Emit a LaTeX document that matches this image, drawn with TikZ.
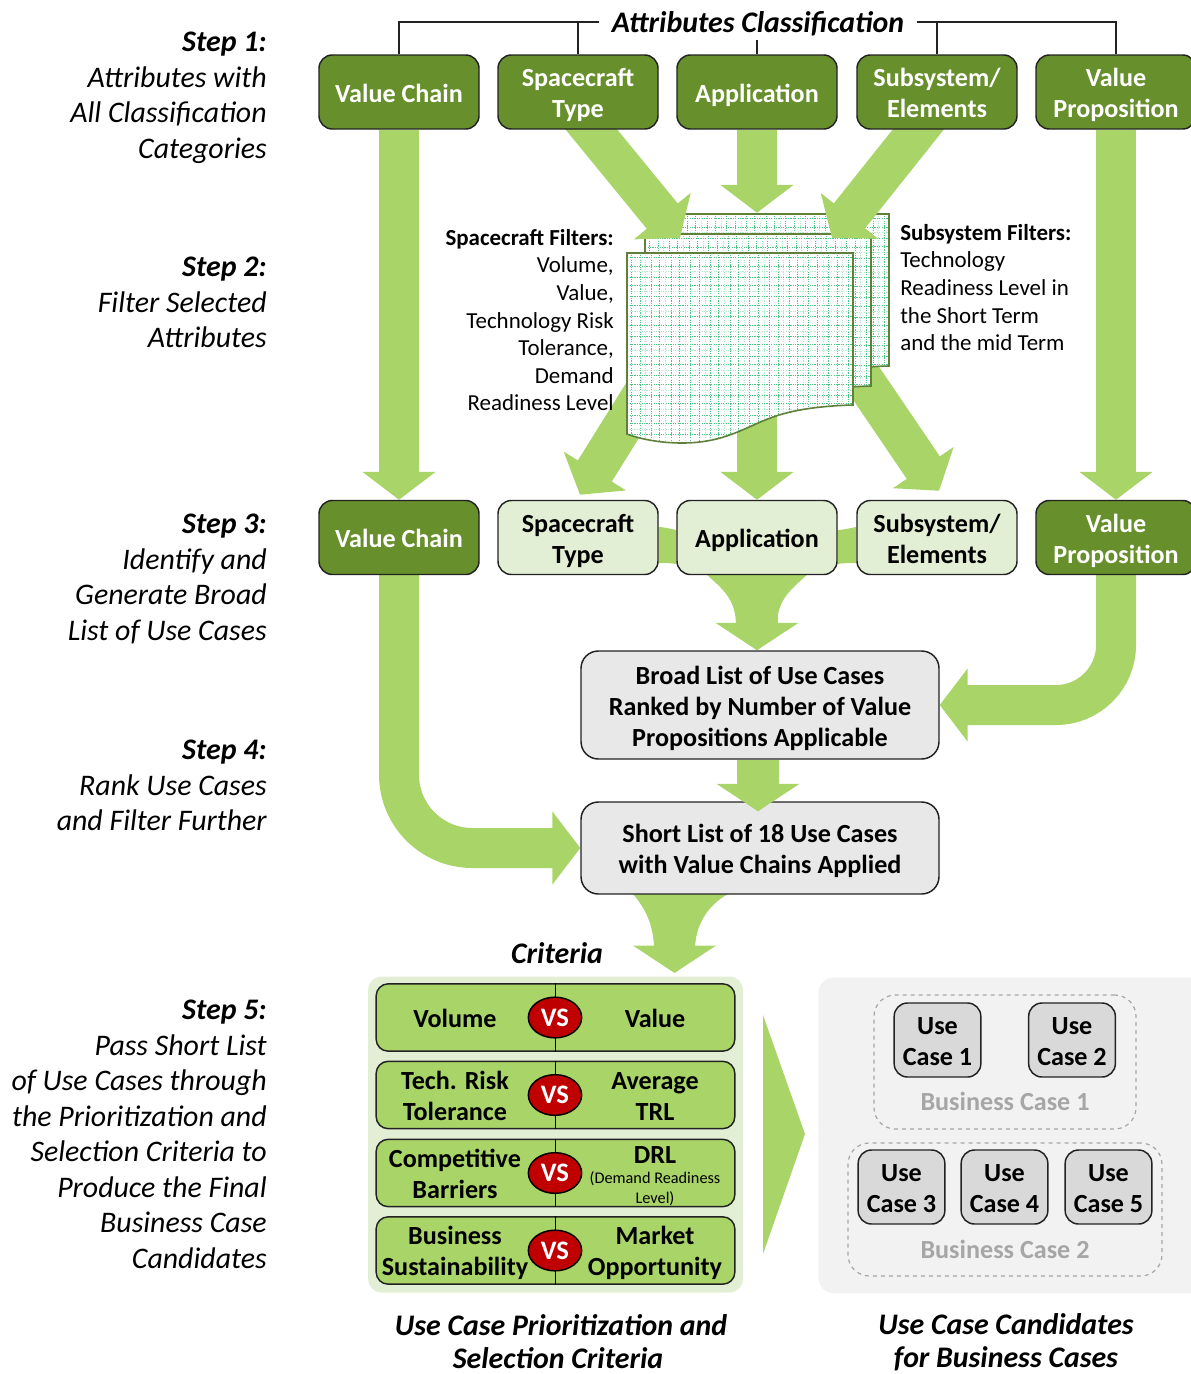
\documentclass[tikz,border=0pt]{standalone}
\usepackage{fontspec}
\setmainfont{Carlito}
\usetikzlibrary{arrows.meta,calc,shapes.geometric}
\definecolor{darkgreen}{HTML}{678F2C}
\definecolor{arrowgreen}{HTML}{A9D468}
\definecolor{palegreen}{HTML}{E2EFD5}
\definecolor{greybox}{HTML}{E8E8E8}
\definecolor{panelgrey}{HTML}{F2F2F2}
\definecolor{casegrey}{HTML}{D9D9D9}
\definecolor{dashgrey}{HTML}{A6A6A6}
\definecolor{vsred}{HTML}{C00000}
\definecolor{edgeblack}{HTML}{222222}
\definecolor{sheetedge}{HTML}{5F7F3A}
\definecolor{gridstrong}{HTML}{4CC585}
\definecolor{gridlight}{HTML}{B5E8CA}
\pgfdeclarelayer{backl}\pgfdeclarelayer{sheetl}\pgfdeclarelayer{upperl}\pgfdeclarelayer{frontl}
\pgfsetlayers{backl,sheetl,upperl,main,frontl}
\tikzset{
  x=0.75pt,y=-0.75pt,
  basefont/.style={font=\fontsize{19.6}{23.25}\selectfont\bfseries,align=center,inner sep=0pt,
    execute at begin node={\rule{0pt}{20pt}},execute at end node={\rule[-5pt]{0pt}{0pt}}},
  multi/.style={execute at begin node={\rule{0pt}{43.5pt}}},
  triple/.style={execute at begin node={\rule{0pt}{67.6pt}}},
  bigbox/.style={basefont,draw=edgeblack,line width=1.1pt,rounded corners=10pt,minimum width=120pt,minimum height=55.5pt},
  darkbox/.style={bigbox,fill=darkgreen,text=white},
  lightbox/.style={bigbox,fill=palegreen,text=black},
  listbox/.style={basefont,draw=edgeblack,line width=1.1pt,fill=greybox,rounded corners=13pt,minimum width=268.5pt},
  blockarrow/.style={draw=arrowgreen,line width=30pt,-{Triangle[length=21pt,width=54pt]}},
  wideblock/.style={draw=arrowgreen,line width=31pt,-{Triangle[length=20.5pt,width=61pt]}},
  steptext/.style={font=\fontsize{22.4}{26.6}\selectfont\itshape,align=right,anchor=north east,inner sep=0pt},
  headbase/.style={font=\fontsize{22.4}{26.6}\selectfont\bfseries\itshape,align=center,inner sep=0pt},
  headtext/.style={headbase,execute at begin node={\rule{0pt}{21pt}},execute at end node={\rule[-6pt]{0pt}{0pt}}},
  filtertext/.style={font=\fontsize{17.2}{20.7}\selectfont,inner sep=0pt},
  criteriarow/.style={draw=edgeblack,line width=1.1pt,fill=arrowgreen,rounded corners=9pt,minimum width=269pt,minimum height=50.5pt,inner sep=0pt},
  critlabel/.style={basefont},
  vsoval/.style={ellipse,draw=black,line width=1.1pt,fill=vsred,text=white,font=\fontsize{20}{22}\selectfont\bfseries,minimum width=40pt,minimum height=30.5pt,inner sep=0pt},
  casebox/.style={basefont,multi,draw=edgeblack,line width=1.1pt,fill=casegrey,rounded corners=10pt,minimum width=65pt,minimum height=55.5pt},
  groupbox/.style={draw=dashgrey,line width=0.9pt,dashed,rounded corners=16pt,inner sep=0pt},
  grouplabel/.style={basefont,text=dashgrey},
}
\newcommand{\sheetpath}{(627,253) -- (853,253) -- (853,405) .. controls (815,406) and (790,411) .. (773,417) .. controls (745,427) and (725,443) .. (682,443) .. controls (660,443) and (640,439) .. (627,434) -- cycle}
\newcommand{\drawsheet}[2]{%
  \begin{scope}[shift={(#1,#2)}]
    \fill[white] \sheetpath;
    \begin{scope}
      \clip \sheetpath;
      \foreach \g in {645.7,665.4,...,860} \draw[gridlight,line width=0.45pt,dash pattern=on 0.9pt off 0.9pt] (\g,250) -- (\g,450);
      \foreach \g in {271.7,291.4,...,450} \draw[gridlight,line width=0.45pt,dash pattern=on 0.9pt off 0.9pt] (620,\g) -- (860,\g);
      \foreach \g in {631.6,651.3,...,860} \draw[gridstrong,line width=0.65pt,dash pattern=on 0.9pt off 0.9pt] (\g,250) -- (\g,450);
      \foreach \g in {640.1,659.8,...,860} \draw[gridstrong,line width=0.65pt,dash pattern=on 0.9pt off 0.9pt] (\g,250) -- (\g,450);
      \foreach \g in {257.5,277.2,...,450} \draw[gridstrong,line width=0.65pt,dash pattern=on 0.9pt off 0.9pt] (620,\g) -- (860,\g);
      \foreach \g in {266,285.7,...,450} \draw[gridstrong,line width=0.65pt,dash pattern=on 0.9pt off 0.9pt] (620,\g) -- (860,\g);
    \end{scope}
    \draw[sheetedge,line width=1.2pt] \sheetpath;
  \end{scope}}
\begin{document}
\begin{tikzpicture}
\useasboundingbox (0,0) rectangle (1191,1374);
% step texts
\node[steptext] (step1) at (267,32) {\textbf{Step 1:}\\Attributes with\\All Classification\\Categories};
\node[steptext] (step2) at (267,257) {\textbf{Step 2:}\\Filter Selected\\Attributes};
\node[steptext] (step3) at (267,514) {\textbf{Step 3:}\\Identify and\\Generate Broad\\List of Use Cases};
\node[steptext] (step4) at (267,740) {\textbf{Step 4:}\\Rank Use Cases\\and Filter Further};
\node[steptext] (step5) at (267,1000) {\textbf{Step 5:}\\Pass Short List\\of Use Cases through\\the Prioritization and\\Selection Criteria to\\Produce the Final\\Business Case\\Candidates};
% title
\node[headtext,inner xsep=9.75pt,minimum height=27pt] (title) at (758,22) {Attributes Classification};
% top row
\node[darkbox] (vcA) at (399,92) {Value Chain};
\node[darkbox,multi] (scA) at (578,92) {Spacecraft\\Type};
\node[darkbox] (apA) at (757,92) {Application};
\node[darkbox,multi] (ssA) at (937,92) {Subsystem/\\Elements};
\node[darkbox,multi] (vpA) at (1116,92) {Value\\Proposition};
% bracket
\draw[edgeblack,line width=1pt] (title.west) -| (vcA.north);
\draw[edgeblack,line width=1pt] (scA.north) -- (scA.north |- title.west);
\draw[edgeblack,line width=1pt] (title.east) -| (vpA.north);
\draw[edgeblack,line width=1pt] (ssA.north) -- (ssA.north |- title.east);
\draw[edgeblack,line width=1pt] (apA.north) -- (apA.north |- title.south);
% third row
\node[darkbox] (vcB) at (399,537.5) {Value Chain};
\node[lightbox,multi] (scB) at (578,537.5) {Spacecraft\\Type};
\node[lightbox] (apB) at (757,537.5) {Application};
\node[lightbox,multi] (ssB) at (937,537.5) {Subsystem/\\Elements};
\node[darkbox,multi] (vpB) at (1116,537.5) {Value\\Proposition};
% lists
\node[listbox,triple,minimum height=81pt] (broad) at (760,705) {Broad List of Use Cases\\Ranked by Number of Value\\Propositions Applicable};
\node[listbox,multi,minimum height=69pt] (short) at (760,848) {Short List of 18 Use Cases\\with Value Chains Applied};
% filter texts
\node[filtertext,align=right,anchor=north east] (scfilter) at (614,229) {\textbf{Spacecraft Filters:}\\Volume,\\Value,\\Technology Risk\\Tolerance,\\Demand\\Readiness Level};
\node[filtertext,align=left,anchor=north west] (ssfilter) at (900,224) {\textbf{Subsystem Filters:}\\Technology\\Readiness Level in\\the Short Term\\and the mid Term};
% sheets
\coordinate (sheetL) at (659,368);
\coordinate (sheetM) at (757,380);
\coordinate (sheetR) at (855,367);
\begin{pgfonlayer}{sheetl}
  \drawsheet{36}{-39}
  \drawsheet{18}{-19}
  \drawsheet{0}{0}
\end{pgfonlayer}
\begin{pgfonlayer}{upperl}
  \draw[blockarrow] ($(scA.south)+(-2,-19)$) -- ($(scB.north)+(102,-262)$);
  \draw[blockarrow] (apA.south) -- ($(apB.north)+(0,-287)$);
  \draw[blockarrow] ($(ssA.south)+(-3,-20)$) -- ($(ssB.north)+(-105,-262)$);
\end{pgfonlayer}
\begin{pgfonlayer}{backl}
  \draw[blockarrow] (vcA.south) -- (vcB.north);
  \draw[blockarrow] (vpA.south) -- (vpB.north);
  \draw[blockarrow] (sheetL) -- ($(scB.north)+(2,-5)$);
  \draw[blockarrow] (sheetM) -- (apB.north);
  \draw[blockarrow] (sheetR) -- ($(ssB.north)+(2,-9)$);
  % side connectors of the third row
  \fill[arrowgreen] (scB.east |- 0,527) .. controls (664,527) and (671,529) .. (apB.west |- 0,530) -- (apB.west |- 0,564) .. controls (671,563) and (664,563) .. (scB.east |- 0,563) -- cycle;
  \fill[arrowgreen] (apB.east |- 0,530) .. controls (843,530) and (850,528) .. (ssB.west |- 0,527) -- (ssB.west |- 0,563) .. controls (850,563) and (843,563) .. (apB.east |- 0,564) -- cycle;
  % funnels
  \fill[arrowgreen] (706,574) .. controls (724,590) and (736,600) .. (736,626) -- (777,626) .. controls (777,600) and (790,590) .. (808,574) -- cycle;
  \draw[wideblock] (apB.south) -- ($(broad.north)+(-3,0)$);
  \fill[arrowgreen] (633,894) .. controls (645,908) and (654,925) .. (654,950) -- (695,950) .. controls (695,925) and (708,905) .. (728,894) -- cycle;
  \coordinate (critTip) at (674.5,973);
  \draw[wideblock] ($(short.south)+(-85.5,0)$) ++(0,10) -- (critTip);
  % curved arrows
  \draw[blockarrow,rounded corners=45pt] (vpB.south) |- (broad.east);
  \draw[blockarrow,rounded corners=55pt] (vcB.south) |- (short.west);
\end{pgfonlayer}
\begin{pgfonlayer}{frontl}
  \draw[wideblock,line width=32pt] ($(broad.south)+(-2,0)$) -- ($(short.north)+(-2,10)$);
\end{pgfonlayer}
% criteria
\node[headtext] (crit) at (557,953) {Criteria};
\node[draw=none,fill=palegreen,rounded corners=10pt,minimum width=281pt,minimum height=237pt,inner sep=0pt] (critpanel) at (555.5,1134.5) {};
\node[criteriarow] (r1) at (555.5,1017.5) {};
\node[criteriarow] (r2) at (555.5,1095) {};
\node[criteriarow] (r3) at (555.5,1173) {};
\node[criteriarow] (r4) at (555.5,1250.5) {};
\foreach \r in {r1,r2,r3,r4} \draw[black,line width=1pt] (\r.north) -- (\r.south);
\node[vsoval] (vs1) at (555,1017.5) {VS};
\node[vsoval] (vs2) at (555,1095) {VS};
\node[vsoval] (vs3) at (555,1173) {VS};
\node[vsoval] (vs4) at (555,1250.5) {VS};
\node[critlabel] (l1) at (455,1017) {Volume};
\node[critlabel] (v1) at (655,1017) {Value};
\node[critlabel,multi] (l2) at (455,1095) {Tech. Risk\\Tolerance};
\node[critlabel,multi] (v2) at (655,1095) {Average\\TRL};
\node[critlabel,multi] (l3) at (455,1173) {Competitive\\Barriers};
\node[critlabel] (v3) at (655,1153) {DRL};
\node[font=\fontsize{12.2}{15}\selectfont,align=center,inner sep=0pt] (v3b) at (655,1189) {(Demand Readiness\\Level)};
\node[critlabel,multi] (l4) at (455,1250) {Business\\Sustainability};
\node[critlabel,multi] (v4) at (655,1250) {Market\\Opportunity};
% big triangle
\coordinate (triA) at (763,1015); \coordinate (triB) at (805,1134); \coordinate (triC) at (763,1254);
\fill[arrowgreen] (triA) -- (triB) -- (triC) -- cycle;
% candidates
\node[fill=panelgrey,rounded corners=12pt,minimum width=300pt,minimum height=237pt,inner sep=0pt,anchor=north west] (candpanel) at (818,977) {};
\node[groupbox,minimum width=196.5pt,minimum height=100.5pt] (bc1) at (1005,1062) {};
\node[groupbox,minimum width=235.5pt,minimum height=99.75pt] (bc2) at (1005,1209.5) {};
\node[casebox] (uc1) at (937.5,1040) {Use\\Case 1};
\node[casebox] (uc2) at (1072,1040) {Use\\Case 2};
\node[casebox] (uc3) at (901.5,1187) {Use\\Case 3};
\node[casebox] (uc4) at (1004.5,1187) {Use\\Case 4};
\node[casebox] (uc5) at (1108.5,1187) {Use\\Case 5};
\node[grouplabel] (bl1) at (1005,1100) {Business Case 1};
\node[grouplabel] (bl2) at (1005,1248) {Business Case 2};
% captions
\node[headbase] (capLa) at (561,1325) {Use Case Prioritization and};
\node[headbase] (capLb) at (558,1358) {Selection Criteria};
\node[headbase] (capRa) at (1006,1324) {Use Case Candidates};
\node[headbase] (capRb) at (1006,1359) {for Business Cases};
\end{tikzpicture}
\end{document}
